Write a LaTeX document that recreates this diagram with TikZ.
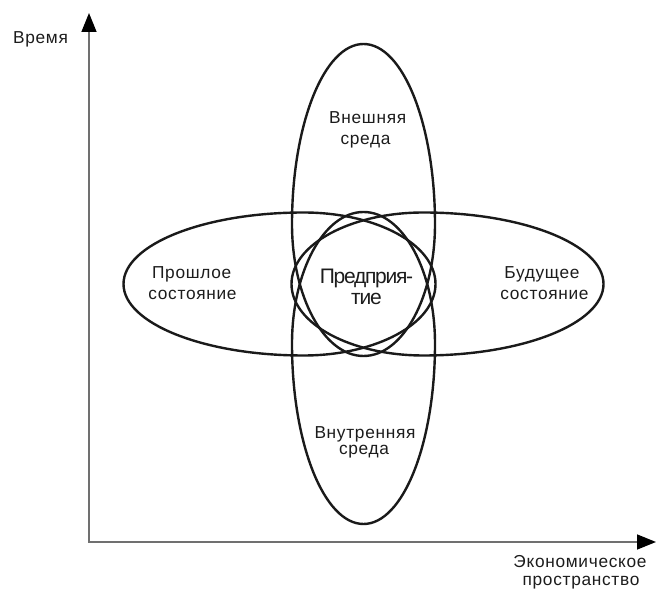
\documentclass[tikz,border=0pt]{standalone}
\usepackage{fontspec}
\setmainfont{Liberation Sans}
\newfontfamily\lblfont[LetterSpace=4]{Liberation Sans}
\newfontfamily\tightfont[LetterSpace=-6]{Liberation Sans}
\usetikzlibrary{arrows.meta}
\definecolor{ink}{HTML}{1A1A1A}
\definecolor{txt}{HTML}{1C1C1C}
\definecolor{axisgray}{HTML}{707070}

\tikzset{
  egg/.style={draw=ink, line width=2.4pt},
  % egg outline: widest at the origin, pointed end towards -x, blunt end towards +x
  eggshape/.style={insert path={(0pt,71.5pt)
      arc[start angle=90, end angle=270, x radius=180pt, y radius=71.5pt]
      arc[start angle=270, end angle=450, x radius=132pt, y radius=71.5pt] -- cycle}},
  axis/.style={draw=axisgray, line width=1.5pt, line cap=rect,
      -{Triangle[length=19pt, width=15pt, color=black]}},
  lbl/.style={text=txt, font=\lblfont\fontsize{17.3}{19}\selectfont,
      inner sep=0pt, anchor=base},
  core/.style={text=txt, font=\tightfont\fontsize{21}{22}\selectfont,
      inner sep=0pt, anchor=base},
}

\begin{document}
\begin{tikzpicture}[x=1pt, y=1pt]
  \useasboundingbox (0,0) rectangle (656,589);

  % axes
  \coordinate (o) at (89,47);
  \coordinate (ytop) at (89,576);
  \coordinate (xend) at (656,47);
  \draw[axis] (o) -- (ytop);
  \draw[axis] (o) -- (xend);
  \node[lbl] (time) at (40.5,545.7) {Время};
  \node[lbl] (space1) at (580,21.5) {Экономическое};
  \node[lbl] (space2) at (581,3.8) {пространство};

  % four eggs around the enterprise
  \draw[egg, shift={(303.5,305)}, eggshape];
  \draw[egg, shift={(423.5,305)}, rotate=180, eggshape];
  \draw[egg, shift={(363.5,365)}, rotate=-90, eggshape];
  \draw[egg, shift={(363.5,245)}, rotate=90, eggshape];

  % labels
  \node[lbl] (ext1) at (367.7,465.7) {Внешняя};
  \node[lbl] (ext2) at (365.5,444.7) {среда};
  \node[lbl] (int1) at (365,150.7) {Внутренняя};
  \node[lbl] (int2) at (364,134) {среда};
  \node[lbl] (past1) at (191.7,310) {Прошлое};
  \node[lbl] (past2) at (192.5,289) {состояние};
  \node[lbl] (fut1) at (542,310) {Будущее};
  \node[lbl] (fut2) at (544.5,289) {состояние};
  \node[core] (ent1) at (366.5,305.7) {Предприя-};
  \node[core] (ent2) at (366.5,284) {тие};
\end{tikzpicture}
\end{document}
